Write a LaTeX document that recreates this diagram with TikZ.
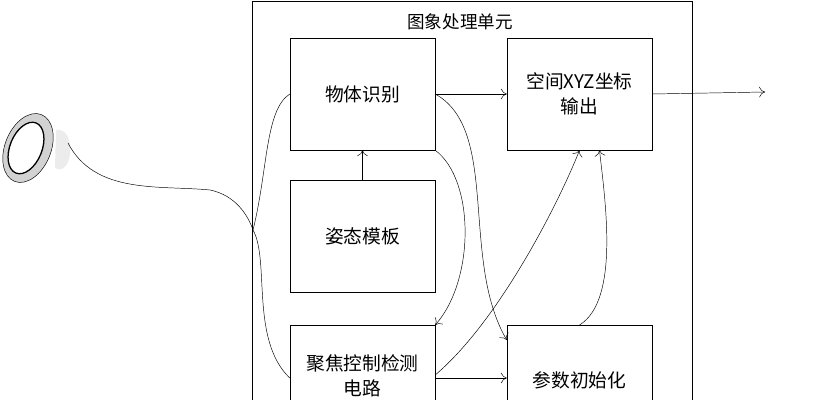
\documentclass[tikz,border=0pt]{standalone}
\usepackage{fontspec}
\usetikzlibrary{arrows.meta}
\newfontfamily\cjk{Noto Sans CJK SC}
\tikzset{
	unit/.style={draw=black, minimum width=4.35cm, minimum height=3.36cm, align=center, font=\cjk\fontsize{16}{21}\selectfont},
	link/.style={-{To[length=5pt,width=9pt]}, thin}
}
\begin{document}
\begin{tikzpicture}[x=0.03cm, y=-0.03cm]
	\useasboundingbox (0,0) rectangle (833,400);
	
	\draw (252,1) rectangle (692,420);
	\node[font=\cjk\fontsize{15}{18}\selectfont] (title) at (460,22) {图象处理单元};
	
	\node[unit] (recog) at (362.5,94)  {物体识别};
	\node[unit] (xyz)   at (579.5,94)  {空间XYZ坐标\\输出};
	\node[unit] (pose)  at (362.5,236) {姿态模板};
	\node[unit, anchor=north] (focus) at (362.5,325) {};
	\node[unit, anchor=north] (init)  at (579.5,325) {};
	\node[font=\cjk\fontsize{16}{21}\selectfont, align=center] (focust) at (362.5,376) {聚焦控制检测\\电路};
	\node[font=\cjk\fontsize{16}{21}\selectfont] (initt) at (579.5,380) {参数初始化};
	\coordinate (out) at (765,92);
	
	% camera lens
	\fill[gray!15] (56,130) .. controls (66,128) and (72,140) .. (70,155) .. controls (68,168) and (60,172) .. (55,168) -- cycle;
	\draw[fill=gray!35, rotate around={-22:(28,148)}] (28,148) ellipse (23 and 36);
	\draw[fill=white, line width=1.1pt, rotate around={-22:(26,148)}] (26,148) ellipse (16 and 27);
	\coordinate (lens) at (68,143);
	\coordinate (split) at (253,230);
	
	% cable
	\draw (lens) .. controls (95,195) and (160,185) .. (210,190) .. controls (235,195) and (248,215) .. (split);
	\draw (split) .. controls (268,170) and (265,110) .. (recog.west);
	\draw (split) .. controls (270,260) and (250,340) .. (focus.west |- 0,378);
	
	\draw[link] (recog.east) -- (xyz.west);
	\draw[link] (pose.north) -- (recog.south);
	\draw[link] (recog.south east) .. controls (475,180) and (475,280) .. (focus.north east);
	\draw[link] (recog.east) .. controls (500,130) and (460,260) .. (init.north west |- 0,340);
	\draw[link] (focus.east |- 0,375) .. controls (500,320) and (560,200) .. (xyz.south);
	\draw[link] (focus.east |- 0,378) -- (init.west |- 0,378);
	\draw[link] (init.north) .. controls (620,300) and (605,200) .. ([xshift=0.6cm]xyz.south);
	\draw[link] (xyz.east) -- (out);
	
\end{tikzpicture}
\end{document}
